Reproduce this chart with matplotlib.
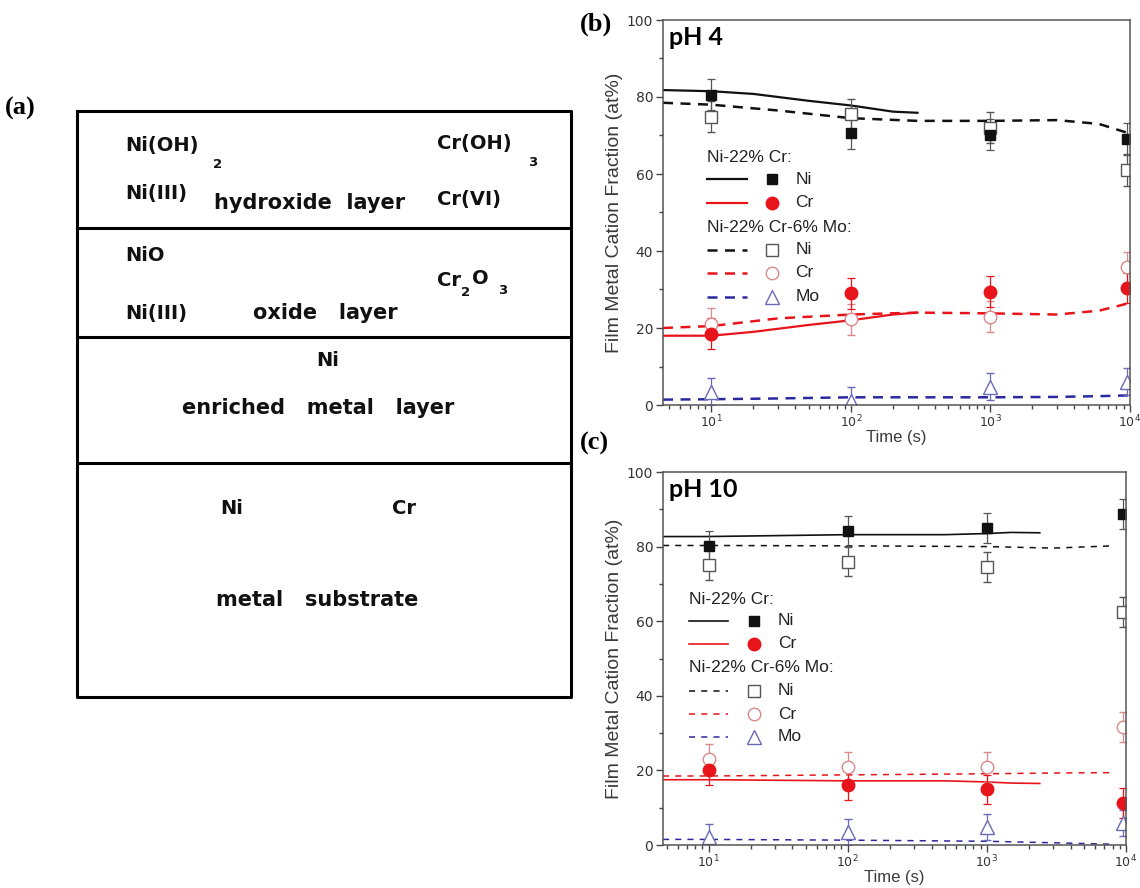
import numpy as np
import matplotlib
matplotlib.use('Agg')
import matplotlib.pyplot as plt
from matplotlib.ticker import FixedLocator, LogLocator, NullFormatter

# measurement times (s) for the XPS points
t_pts = [10, 100, 1000, 9500]

# pH 4 -- points
b_ni = [80.6, 70.6, 70.2, 69.2]
b_cr = [18.5, 29.0, 29.4, 30.4]
b_ni_mo = [74.9, 75.6, 72.0, 61.0]
b_cr_mo = [21.1, 22.3, 22.9, 35.8]
b_mo = [3.4, 1.1, 4.7, 6.1]
# pH 4 -- model curves
b_t_alloy = [4.5, 10, 20, 50, 100, 200, 300]
b_ni_line = [81.8, 81.5, 80.8, 79.0, 77.8, 76.2, 75.9]
b_cr_line = [18.0, 18.0, 19.0, 20.8, 22.0, 23.5, 24.0]
b_t_mo = [4.5, 10, 30, 100, 300, 1000, 3000, 6000, 10000]
b_ni_mo_line = [78.5, 78.0, 76.5, 74.5, 73.8, 73.8, 74.0, 73.0, 70.5]
b_cr_mo_line = [20.0, 20.5, 22.5, 23.5, 24.0, 23.8, 23.5, 24.5, 26.5]
b_mo_line = [1.4, 1.5, 1.7, 2.0, 2.0, 2.0, 2.1, 2.3, 2.5]

# pH 10 -- points
c_ni = [80.1, 84.1, 85.0, 88.7]
c_cr = [20.0, 16.0, 14.9, 11.2]
c_ni_mo = [75.1, 76.0, 74.5, 62.5]
c_cr_mo = [23.0, 21.0, 21.0, 31.6]
c_mo = [2.2, 3.5, 4.9, 5.8]
# pH 10 -- model curves
c_t_alloy = [4.7, 10, 100, 500, 1000, 1500, 2400]
c_ni_line = [82.7, 82.7, 83.2, 83.2, 83.5, 83.8, 83.7]
c_cr_line = [17.5, 17.5, 17.2, 17.2, 16.9, 16.6, 16.5]
c_t_mo = [4.7, 10, 100, 1000, 3000, 8000]
c_ni_mo_line = [80.3, 80.3, 80.2, 80.0, 79.6, 80.2]
c_cr_mo_line = [18.5, 18.5, 18.8, 19.1, 19.3, 19.4]
c_mo_line = [1.5, 1.5, 1.3, 1.0, 0.6, 0.2]

err = 4.0

BLACK = '#111111'
RED = '#e8141b'
BLUE = '#2a2aa0'
GREY = '#555555'
PINK = '#d98a8a'
LBLUE = '#6a6ab8'

fig = plt.figure(figsize=(11.4, 8.88), dpi=100)

# ---------- (a) film structure sketch, drawn in pixel units ----------
sk = fig.add_axes([0, 0, 1, 1])
sk.set_xlim(0, 1140)
sk.set_ylim(888, 0)
sk.axis('off')
box_l, box_r, box_t, box_b = 77, 571, 111, 697
seps = [228, 337, 463]
sk.plot([box_l, box_r, box_r, box_l, box_l], [box_t, box_t, box_b, box_b, box_t], color='k', lw=2.2)
for s in seps:
    sk.plot([box_l, box_r], [s, s], color='k', lw=2.2)

sf = dict(family='DejaVu Sans', weight='bold', color='#111111', va='center')
fs = 14
fl = 15
sub = 9.5
sk.text(125, 145, 'Ni(OH)', fontsize=fs, **sf)
sk.text(213, 165, '2', fontsize=sub, **sf)
sk.text(437, 143, 'Cr(OH)', fontsize=fs, **sf)
sk.text(528, 162, '3', fontsize=sub, **sf)
sk.text(125, 193, 'Ni(III)', fontsize=fs, **sf)
sk.text(310, 203, 'hydroxide  layer', fontsize=fl, ha='center', **sf)
sk.text(437, 199, 'Cr(VI)', fontsize=fs, **sf)
sk.text(125, 255, 'NiO', fontsize=fs, **sf)
sk.text(437, 280, 'Cr', fontsize=fs, **sf)
sk.text(461, 292, '2', fontsize=sub, **sf)
sk.text(472, 278, 'O', fontsize=fs, **sf)
sk.text(498, 290, '3', fontsize=sub, **sf)
sk.text(125, 313, 'Ni(III)', fontsize=fs, **sf)
sk.text(325, 313, 'oxide   layer', fontsize=fl, ha='center', **sf)
sk.text(328, 360, 'Ni', fontsize=fs, ha='center', **sf)
sk.text(318, 408, 'enriched   metal   layer', fontsize=fl, ha='center', **sf)
sk.text(232, 508, 'Ni', fontsize=fs, ha='center', **sf)
sk.text(404, 508, 'Cr', fontsize=fs, ha='center', **sf)
sk.text(317, 600, 'metal   substrate', fontsize=fl, ha='center', **sf)

pf = dict(family='Liberation Serif', weight='bold', fontsize=19)
fig.text(5 / 1140, 1 - 108 / 888, '(a)', va='center', **pf)
fig.text(580 / 1140, 1 - 24 / 888, '(b)', va='center', **pf)
fig.text(580 / 1140, 1 - 443 / 888, '(c)', va='center', **pf)


def panel(ax, xmin, title, pts, lines, legend_pos, thin):
    ni, cr, ni_mo, cr_mo, mo = pts
    (ta, ni_l, cr_l), (tm, ni_mo_l, cr_mo_l, mo_l) = lines
    lw_dash = 1.1 if thin else 1.8
    dash = (4, 4) if thin else (4, 3)
    lw_solid = 1.2 if thin else 1.6

    ax.plot(ta, ni_l, color=BLACK, lw=lw_solid)
    ax.plot(ta, cr_l, color=RED, lw=lw_solid)
    ax.plot(tm, ni_mo_l, color=BLACK, lw=lw_dash, dashes=dash)
    ax.plot(tm, cr_mo_l, color=RED, lw=lw_dash, dashes=dash)
    ax.plot(tm, mo_l, color=BLUE, lw=lw_dash, dashes=dash)

    ekw = dict(capsize=3, elinewidth=0.9, capthick=0.9, ls='none')
    ax.errorbar(t_pts, ni_mo, yerr=err, marker='s', ms=8, mfc='white', mec=GREY, ecolor=GREY, mew=1, **ekw)
    ax.errorbar(t_pts, cr_mo, yerr=err, marker='o', ms=9, mfc='white', mec=PINK, ecolor=PINK, mew=1, **ekw)
    ax.errorbar(t_pts, mo, yerr=3.5, marker='^', ms=10, mfc='white', mec=LBLUE, ecolor=LBLUE, mew=1, **ekw)
    ax.errorbar(t_pts, ni, yerr=err, marker='s', ms=7, color=BLACK, ecolor=GREY, **ekw)
    ax.errorbar(t_pts, cr, yerr=err, marker='o', ms=9, color=RED, ecolor=RED, **ekw)

    ax.set_xscale('log')
    ax.set_xlim(xmin, 1e4)
    ax.set_ylim(0, 100)
    ax.yaxis.set_major_locator(FixedLocator([0, 20, 40, 60, 80, 100]))
    ax.yaxis.set_minor_locator(FixedLocator([10, 30, 50, 70, 90]))
    ax.xaxis.set_major_locator(FixedLocator([10, 100, 1000, 10000]))
    ax.xaxis.set_minor_locator(LogLocator(base=10, subs=np.arange(2, 10), numticks=20))
    ax.xaxis.set_minor_formatter(NullFormatter())
    ax.set_xticklabels([r'$10^1$', r'$10^2$', r'$10^3$', r'$10^4$'])
    ax.tick_params(which='major', direction='out', length=5, width=1, color='#444444',
                   labelsize=10, labelcolor='#333333', top=False, right=False, pad=2)
    ax.tick_params(axis='x', which='major', labelsize=9, pad=1)
    ax.tick_params(which='minor', direction='out', length=3, width=1, color='#444444', top=False, right=False)
    for sp in ax.spines.values():
        sp.set_color('#555555')
        sp.set_linewidth(1.1)
    lf = dict(family='Liberation Sans', color='#3a3a3a')
    ax.set_xlabel('Time (s)', fontsize=12, labelpad=0, **lf)
    ax.set_ylabel('Film Metal Cation Fraction (at%)', fontsize=14, labelpad=3, **lf)
    ax.text(0.012, 0.985, title, transform=ax.transAxes, ha='left', va='top',
            fontsize=18, family='Lato', weight='bold', color='black')

    # key, drawn in axes units
    x0, x1, xm, xt, rows = legend_pos
    tf = dict(transform=ax.transAxes, fontsize=12.5, va='center', family='Liberation Sans', color='#222222')
    ax.text(x0, rows[0], 'Ni-22% Cr:', ha='left', **tf)
    ax.text(x0, rows[3], 'Ni-22% Cr-6% Mo:', ha='left', **tf)
    entries = [
        (rows[1], BLACK, '-', dict(marker='s', ms=7, color=BLACK), 'Ni'),
        (rows[2], RED, '-', dict(marker='o', ms=9, color=RED), 'Cr'),
        (rows[4], BLACK, '--', dict(marker='s', ms=8, mfc='white', mec=GREY), 'Ni'),
        (rows[5], RED, '--', dict(marker='o', ms=9, mfc='white', mec=PINK), 'Cr'),
        (rows[6], BLUE, '--', dict(marker='^', ms=10, mfc='white', mec=LBLUE), 'Mo'),
    ]
    for y, c, ls, mk, lab in entries:
        if ls == '-':
            ax.plot([x0, x1], [y, y], color=c, lw=lw_solid, transform=ax.transAxes)
        else:
            ax.plot([x0, x1], [y, y], color=c, lw=lw_dash, dashes=dash, transform=ax.transAxes)
        ax.plot([xm], [y], ls='none', transform=ax.transAxes, **mk)
        ax.text(xt, y, lab, ha='left', **tf)


ax_b = fig.add_axes([663 / 1140, 1 - 405 / 888, 467 / 1140, 385 / 888])
panel(ax_b, 4.5, 'pH 4',
      (b_ni, b_cr, b_ni_mo, b_cr_mo, b_mo),
      ((b_t_alloy, b_ni_line, b_cr_line), (b_t_mo, b_ni_mo_line, b_cr_mo_line, b_mo_line)),
      (0.094, 0.180, 0.233, 0.283, [0.644, 0.587, 0.525, 0.462, 0.403, 0.343, 0.281]),
      thin=False)

ax_c = fig.add_axes([663 / 1140, 1 - 845 / 888, 463 / 1140, 373 / 888])
panel(ax_c, 4.7, 'pH 10',
      (c_ni, c_cr, c_ni_mo, c_cr_mo, c_mo),
      ((c_t_alloy, c_ni_line, c_cr_line), (c_t_mo, c_ni_mo_line, c_cr_mo_line, c_mo_line)),
      (0.056, 0.140, 0.197, 0.248, [0.657, 0.601, 0.539, 0.477, 0.413, 0.351, 0.290]),
      thin=True)

fig.savefig('out.png', dpi=100)
